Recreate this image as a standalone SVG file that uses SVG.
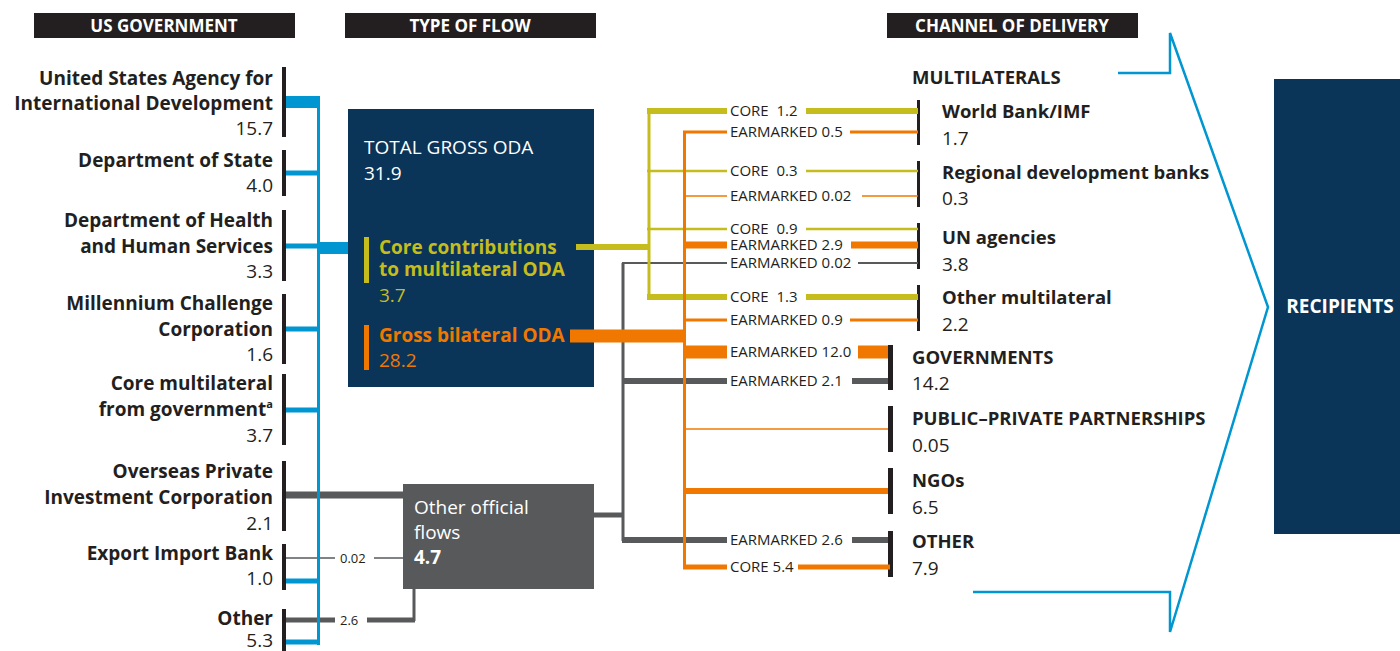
<svg xmlns="http://www.w3.org/2000/svg" width="1400" height="651" viewBox="0 0 1400 651">
<style>
text{font-family:"Open Sans","Noto Sans","Liberation Sans",sans-serif;}
.h{font-size:17px;font-weight:bold;fill:#fff;text-anchor:middle;}
.lb{font-size:19px;font-weight:bold;fill:#231f20;text-anchor:end;}
.ln{font-size:19px;fill:#231f20;text-anchor:end;}
.rb{font-size:18.5px;font-weight:bold;fill:#231f20;}
.rn{font-size:19px;fill:#231f20;}
.sm{font-size:15px;fill:#231f20;}
.bar{fill:#231f20;}
.navy{fill:#0b3459;}
.wt{font-size:19px;fill:#fff;}
.blue{stroke:#0096d1;fill:none;}
.yel{stroke:#c4bd1d;fill:none;}
.org{stroke:#f07800;fill:none;}
.gry{stroke:#58595b;fill:none;}
</style>

<g id="headers">
<rect x="34" y="13" width="261" height="25" class="bar"/>
<text x="164" y="32" class="h">US GOVERNMENT</text>
<rect x="345" y="13" width="251" height="25" class="bar"/>
<text x="470" y="32" class="h">TYPE OF FLOW</text>
<rect x="887" y="13" width="251" height="25" class="bar"/>
<text x="1012" y="32" class="h">CHANNEL OF DELIVERY</text>
</g>

<g id="usaid">
<rect x="282" y="67" width="4" height="70" class="bar"/>
<text x="273" y="85" class="lb">United States Agency for</text>
<text x="273" y="110" class="lb">International Development</text>
<text x="273" y="135" class="ln">15.7</text>
</g>
<g id="state">
<rect x="282" y="150" width="4" height="46" class="bar"/>
<text x="273" y="167" class="lb">Department of State</text>
<text x="273" y="192" class="ln">4.0</text>
</g>
<g id="hhs">
<rect x="282" y="210" width="4" height="71" class="bar"/>
<text x="273" y="227" class="lb">Department of Health</text>
<text x="273" y="253" class="lb">and Human Services</text>
<text x="273" y="278" class="ln">3.3</text>
</g>
<g id="mcc">
<rect x="282" y="294" width="4" height="70" class="bar"/>
<text x="273" y="310" class="lb">Millennium Challenge</text>
<text x="273" y="336" class="lb">Corporation</text>
<text x="273" y="361" class="ln">1.6</text>
</g>
<g id="coremulti">
<rect x="282" y="374" width="4" height="71" class="bar"/>
<text x="273" y="390" class="lb">Core multilateral</text>
<text x="273" y="416" class="lb">from government<tspan font-size="11" dy="-8">a</tspan></text>
<text x="273" y="442" class="ln">3.7</text>
</g>
<g id="opic">
<rect x="282" y="461" width="4" height="70" class="bar"/>
<text x="273" y="478" class="lb">Overseas Private</text>
<text x="273" y="504" class="lb">Investment Corporation</text>
<text x="273" y="530" class="ln">2.1</text>
</g>
<g id="exim">
<rect x="282" y="544" width="4" height="46" class="bar"/>
<text x="273" y="560" class="lb">Export Import Bank</text>
<text x="273" y="585" class="ln">1.0</text>
</g>
<g id="other-gov">
<rect x="282" y="609" width="4" height="42" class="bar"/>
<text x="273" y="625" class="lb">Other</text>
<text x="273" y="647" class="ln">5.3</text>
</g>

<g id="total-oda">
<rect x="348" y="109" width="246" height="278" class="navy"/>
<text x="364" y="154" class="wt">TOTAL GROSS ODA</text>
<text x="364" y="180" class="wt">31.9</text>
<rect x="364" y="237" width="5" height="46" fill="#c4bd1d"/>
<text x="379" y="254" class="wt" font-weight="bold" style="fill:#c4bd1d">Core contributions</text>
<text x="379" y="276" class="wt" font-weight="bold" style="fill:#c4bd1d">to multilateral ODA</text>
<text x="379" y="302" class="wt" style="fill:#c4bd1d">3.7</text>
<rect x="364" y="325" width="5" height="45" fill="#f07800"/>
<text x="379" y="342" class="wt" font-weight="bold" style="fill:#f07800">Gross bilateral ODA</text>
<text x="379" y="367" class="wt" style="fill:#f07800">28.2</text>
</g>

<g id="other-official">
<rect x="403" y="484" width="191" height="105" fill="#58595b"/>
<text x="414" y="514" class="wt">Other official</text>
<text x="414" y="539" class="wt">flows</text>
<text x="414" y="564" class="wt" font-weight="bold">4.7</text>
</g>

<g id="multilaterals">
<text x="912" y="84" class="rb">MULTILATERALS</text>
</g>
<g id="worldbank">
<rect x="917" y="100" width="3" height="45" class="bar"/>
<text x="942" y="118" class="rb">World Bank/IMF</text>
<text x="942" y="145" class="rn">1.7</text>
</g>
<g id="regional">
<rect x="917" y="161" width="3" height="46" class="bar"/>
<text x="942" y="179" class="rb">Regional development banks</text>
<text x="942" y="205" class="rn">0.3</text>
</g>
<g id="un">
<rect x="917" y="223" width="3" height="46" class="bar"/>
<text x="942" y="244" class="rb">UN agencies</text>
<text x="942" y="271" class="rn">3.8</text>
</g>
<g id="othermulti">
<rect x="917" y="285" width="3" height="46" class="bar"/>
<text x="942" y="304" class="rb">Other multilateral</text>
<text x="942" y="331" class="rn">2.2</text>
</g>
<g id="governments">
<rect x="888" y="345" width="5" height="45" class="bar"/>
<text x="912" y="364" class="rb">GOVERNMENTS</text>
<text x="912" y="390" class="rn">14.2</text>
</g>
<g id="ppp">
<rect x="888" y="406" width="5" height="46" class="bar"/>
<text x="912" y="425" class="rb">PUBLIC–PRIVATE PARTNERSHIPS</text>
<text x="912" y="452" class="rn">0.05</text>
</g>
<g id="ngos">
<rect x="888" y="468" width="5" height="46" class="bar"/>
<text x="912" y="487" class="rb">NGOs</text>
<text x="912" y="514" class="rn">6.5</text>
</g>
<g id="other-channel">
<rect x="888" y="531" width="5" height="46" class="bar"/>
<text x="912" y="548" class="rb">OTHER</text>
<text x="912" y="575" class="rn">7.9</text>
</g>

<g id="recipients">
<rect x="1274" y="79" width="126" height="455" class="navy"/>
<text x="1340" y="313" font-size="19" font-weight="bold" fill="#fff" text-anchor="middle">RECIPIENTS</text>
</g>

<g id="connectors">
<!-- blue: government to total -->
<path class="blue" stroke-width="12" d="M286 102H320"/>
<path class="blue" stroke-width="5" d="M286 173H320"/>
<path class="blue" stroke-width="5" d="M286 246H320"/>
<path class="blue" stroke-width="12" d="M318 248H348"/>
<path class="blue" stroke-width="5" d="M286 329H320"/>
<path class="blue" stroke-width="5" d="M286 410H320"/>
<path class="blue" stroke-width="5" d="M286 581H320"/>
<path class="blue" stroke-width="5" d="M286 642H320"/>
<!-- grey: to other official flows -->
<path class="gry" stroke-width="7" d="M286 495H403"/>
<path class="gry" stroke-width="1.5" d="M286 558H335M374 558H403"/>
<path class="gry" stroke-width="5" d="M286 620H335M367 620H415"/>
<path class="gry" stroke-width="3" d="M414 589V621"/>
<path class="blue" stroke-width="3" d="M318.5 96V645"/>
<text x="340" y="563" class="sm" font-size="13" style="font-size:13px">0.02</text>
<text x="340" y="625" class="sm" style="font-size:13px">2.6</text>

<!-- grey network -->
<path class="gry" stroke-width="3" d="M623 263V541"/>
<path class="gry" stroke-width="5" d="M594 515H624"/>
<path class="gry" stroke-width="2" d="M622 263H727M858 263H918"/>
<path class="gry" stroke-width="6" d="M622 381H727M852 381H888"/>
<path class="gry" stroke-width="6" d="M622 540H727M852 540H888"/>

<!-- yellow network -->
<path class="yel" stroke-width="6" d="M576 247H650"/>
<path class="yel" stroke-width="3" d="M649 109V298"/>
<path class="yel" stroke-width="6" d="M647 111H727M806 111H918"/>
<path class="yel" stroke-width="2.5" d="M647 171H727M806 171H918"/>
<path class="yel" stroke-width="2.5" d="M647 229H727M806 229H918"/>
<path class="yel" stroke-width="6" d="M647 297H727M806 297H918"/>

<!-- orange network -->
<path class="org" stroke-width="13" d="M570 336H686"/>
<path class="org" stroke-width="3" d="M684.5 131V569"/>
<path class="org" stroke-width="3" d="M683 132H727M850 132H918"/>
<path class="org" stroke-width="1.5" d="M683 196H727M862 196H918"/>
<path class="org" stroke-width="7" d="M683 245H727M851 245H918"/>
<path class="org" stroke-width="3" d="M683 320H727M850 320H918"/>
<path class="org" stroke-width="13" d="M683 352H727M858 352H888"/>
<path class="org" stroke-width="1.5" d="M683 429H888"/>
<path class="org" stroke-width="6" d="M683 491H888"/>
<path class="org" stroke-width="5" d="M683 567H727M798 567H890"/>

<text x="730" y="116" class="sm" xml:space="preserve">CORE  1.2</text>
<text x="730" y="137" class="sm">EARMARKED 0.5</text>
<text x="730" y="176" class="sm" xml:space="preserve">CORE  0.3</text>
<text x="730" y="201" class="sm">EARMARKED 0.02</text>
<text x="730" y="234" class="sm" xml:space="preserve">CORE  0.9</text>
<text x="730" y="250" class="sm">EARMARKED 2.9</text>
<text x="730" y="268" class="sm">EARMARKED 0.02</text>
<text x="730" y="302" class="sm" xml:space="preserve">CORE  1.3</text>
<text x="730" y="325" class="sm">EARMARKED 0.9</text>
<text x="730" y="357" class="sm">EARMARKED 12.0</text>
<text x="730" y="386" class="sm">EARMARKED 2.1</text>
<text x="730" y="545" class="sm">EARMARKED 2.6</text>
<text x="730" y="572" class="sm">CORE 5.4</text>

<!-- chevron -->
<path class="blue" stroke-width="2.5" d="M1118 73H1170V33L1268 307L1170 632V592H973"/>
</g>
</svg>
